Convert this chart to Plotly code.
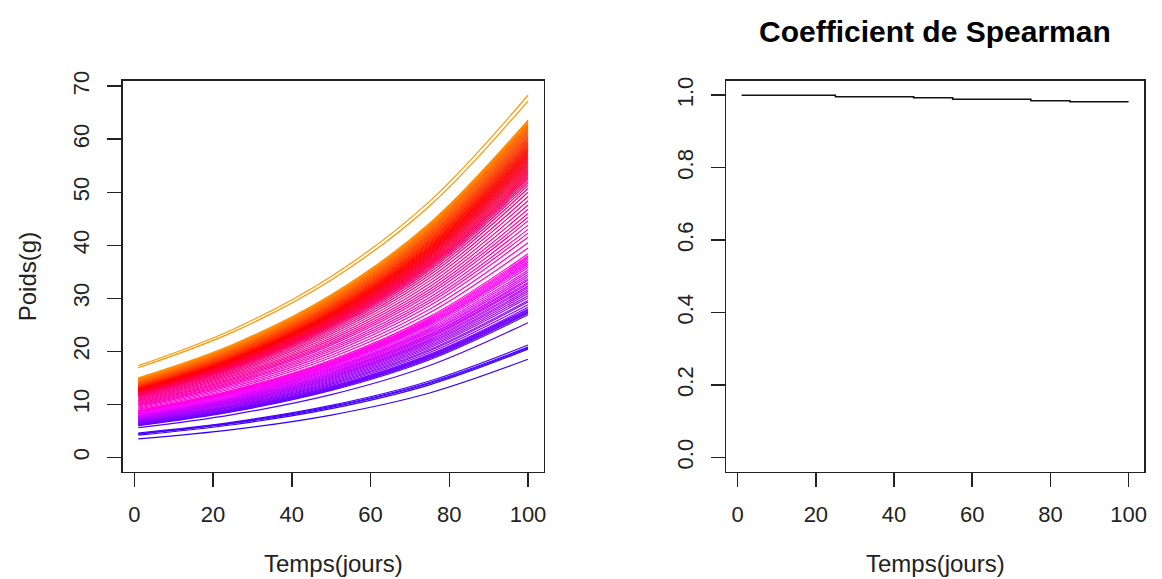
import colorsys
import plotly.graph_objects as go

# ---------------- data ----------------
jours = [1, 25, 50, 75, 100]

poids_j1 = [3.5, 4.2, 4.4, 4.5, 4.6, 5.6, 6.0, 6.1, 6.15, 6.2,
            6.3, 6.35, 6.4, 6.5, 6.6, 6.7, 6.8, 6.9, 7.0, 7.1,
            7.2, 7.3, 7.4, 7.5, 7.6, 7.7, 7.75, 7.85, 7.95, 8.05,
            8.15, 8.25, 8.35, 8.45, 8.5, 8.6, 8.65, 8.75, 8.8, 8.9,
            9.1, 9.3, 9.5, 9.7, 9.85, 10.0, 10.2, 10.35, 10.5, 10.65,
            10.8, 11.0, 11.15, 11.3, 11.45, 11.6, 11.7, 11.8, 11.9, 11.95,
            12.0, 12.1, 12.15, 12.2, 12.3, 12.35, 12.4, 12.5, 12.55, 12.6,
            12.7, 12.75, 12.8, 12.9, 12.95, 13.0, 13.1, 13.15, 13.2, 13.3,
            13.4, 13.45, 13.5, 13.6, 13.7, 13.8, 13.85, 13.95, 14.05, 14.15,
            14.25, 14.35, 14.45, 14.55, 14.65, 14.75, 14.85, 15.0, 16.9, 17.3]

poids_j25 = [5.24, 6.16, 6.40, 6.52, 6.66, 8.08, 8.63, 8.76, 8.83, 8.91,
             9.03, 9.10, 9.18, 9.32, 9.47, 9.60, 9.75, 9.89, 10.03, 10.17,
             10.30, 10.44, 10.58, 10.72, 10.85, 10.99, 11.07, 11.21, 11.35, 11.49,
             11.63, 11.77, 11.91, 12.05, 12.12, 12.26, 12.33, 12.47, 12.55, 12.69,
             12.99, 13.28, 13.58, 13.86, 14.08, 14.30, 14.58, 14.80, 15.02, 15.25,
             15.47, 15.75, 15.98, 16.20, 16.42, 16.63, 16.78, 16.92, 17.06, 17.14,
             17.22, 17.35, 17.43, 17.50, 17.64, 17.71, 17.79, 17.92, 18.00, 18.08,
             18.21, 18.29, 18.37, 18.50, 18.58, 18.66, 18.79, 18.87, 18.94, 19.08,
             19.21, 19.29, 19.36, 19.50, 19.63, 19.76, 19.84, 19.97, 20.10, 20.23,
             20.37, 20.49, 20.61, 20.74, 20.86, 20.99, 21.11, 21.29, 23.62, 24.13]

poids_j50 = [7.99, 9.19, 9.45, 9.61, 9.81, 11.84, 12.62, 12.79, 12.89, 12.99,
             13.14, 13.24, 13.36, 13.59, 13.81, 13.98, 14.21, 14.41, 14.60, 14.80,
             14.98, 15.18, 15.35, 15.55, 15.73, 15.92, 16.05, 16.25, 16.45, 16.64,
             16.84, 17.07, 17.26, 17.44, 17.56, 17.74, 17.86, 18.04, 18.16, 18.36,
             18.83, 19.27, 19.72, 20.11, 20.44, 20.78, 21.18, 21.50, 21.82, 22.17,
             22.51, 22.91, 23.26, 23.60, 23.93, 24.22, 24.45, 24.64, 24.84, 24.97,
             25.09, 25.27, 25.39, 25.51, 25.69, 25.81, 25.93, 26.11, 26.23, 26.35,
             26.53, 26.65, 26.78, 26.95, 27.07, 27.20, 27.37, 27.49, 27.62, 27.79,
             27.97, 28.09, 28.21, 28.39, 28.56, 28.74, 28.86, 29.04, 29.21, 29.39,
             29.56, 29.71, 29.87, 30.02, 30.17, 30.32, 30.47, 30.67, 33.46, 34.13]

poids_j75 = [12.15, 13.69, 13.95, 14.13, 14.41, 17.34, 18.42, 18.65, 18.79, 18.93,
             19.11, 19.25, 19.44, 19.78, 20.11, 20.34, 20.68, 20.96, 21.24, 21.52,
             21.75, 22.03, 22.26, 22.55, 22.78, 23.06, 23.25, 23.54, 23.82, 24.10,
             24.38, 24.72, 25.00, 25.23, 25.42, 25.65, 25.84, 26.07, 26.26, 26.55,
             27.27, 27.93, 28.60, 29.17, 29.64, 30.17, 30.73, 31.20, 31.68, 32.20,
             32.73, 33.29, 33.82, 34.35, 34.82, 35.25, 35.58, 35.86, 36.14, 36.33,
             36.53, 36.75, 36.95, 37.14, 37.37, 37.56, 37.76, 37.99, 38.18, 38.37,
             38.60, 38.79, 38.99, 39.22, 39.41, 39.61, 39.83, 40.03, 40.22, 40.45,
             40.68, 40.87, 41.06, 41.30, 41.53, 41.76, 41.95, 42.18, 42.41, 42.64,
             42.87, 43.05, 43.23, 43.41, 43.59, 43.77, 43.95, 44.16, 47.42, 48.29]

poids_j100 = [18.5, 20.4, 20.6, 20.8, 21.2, 25.4, 26.9, 27.2, 27.4, 27.6,
              27.8, 28.0, 28.3, 28.8, 29.3, 29.6, 30.1, 30.5, 30.9, 31.3,
              31.6, 32.0, 32.3, 32.7, 33.0, 33.4, 33.7, 34.1, 34.5, 34.9,
              35.3, 35.8, 36.2, 36.5, 36.8, 37.1, 37.4, 37.7, 38.0, 38.4,
              39.5, 40.5, 41.5, 42.3, 43.0, 43.8, 44.6, 45.3, 46.0, 46.8,
              47.6, 48.4, 49.2, 50.0, 50.7, 51.3, 51.8, 52.2, 52.6, 52.9,
              53.2, 53.5, 53.8, 54.1, 54.4, 54.7, 55.0, 55.3, 55.6, 55.9,
              56.2, 56.5, 56.8, 57.1, 57.4, 57.7, 58.0, 58.3, 58.6, 58.9,
              59.2, 59.5, 59.8, 60.1, 60.4, 60.7, 61.0, 61.3, 61.6, 61.9,
              62.2, 62.4, 62.6, 62.8, 63.0, 63.2, 63.4, 63.6, 67.2, 68.3]

spearman_jours = [1, 25, 45, 55, 75, 85, 100]
spearman_rho = [1.000, 0.996, 0.993, 0.989, 0.985, 0.982, 0.982]

x_ticks = [0, 20, 40, 60, 80, 100]
y_ticks_poids = [0, 10, 20, 30, 40, 50, 60, 70]
y_ticks_rho = [0.0, 0.2, 0.4, 0.6, 0.8, 1.0]
y_ticktext_rho = ["0.0", "0.2", "0.4", "0.6", "0.8", "1.0"]

# ---------------- figure ----------------
W, H = 1162, 579
FONT = "Liberation Sans, Arial, Helvetica, sans-serif"
INK = "#222222"

n = len(poids_j1)


def couleur(i):
    h = (0.7 + 0.4 * i / (n - 1)) % 1.0
    r, g, b = colorsys.hsv_to_rgb(h, 1.0, 1.0)
    return "rgb(%d,%d,%d)" % (round(r * 255), round(g * 255), round(b * 255))


fig = go.Figure()
for i in range(n):
    fig.add_trace(go.Scatter(
        x=jours,
        y=[poids_j1[i], poids_j25[i], poids_j50[i], poids_j75[i], poids_j100[i]],
        mode="lines", line=dict(color=couleur(i), width=1.2, shape="spline"),
        xaxis="x", yaxis="y", showlegend=False, hoverinfo="skip"))

fig.add_trace(go.Scatter(
    x=spearman_jours, y=spearman_rho, mode="lines",
    line=dict(color="#111111", width=1.6, shape="hv"),
    xaxis="x2", yaxis="y2", showlegend=False, hoverinfo="skip"))

ydom = [(H - 470) / H, (H - 72) / H]
axis_common = dict(showgrid=False, zeroline=False, showline=True, mirror=True,
                   linecolor=INK, linewidth=1.5, ticks="outside", ticklen=14,
                   tickwidth=1.5, tickcolor=INK,
                   tickfont=dict(family=FONT, size=22, color=INK))

fig.update_layout(
    width=W, height=H, autosize=False,
    margin=dict(l=0, r=0, t=0, b=0),
    paper_bgcolor="white", plot_bgcolor="white",
    showlegend=False, hovermode=False,
    xaxis=dict(domain=[123 / W, 545 / W], range=[-2.96, 103.96],
               tickvals=x_ticks, ticklabelstandoff=8, anchor="y", **axis_common),
    yaxis=dict(domain=ydom, range=[-2.73, 71.03], tickvals=y_ticks_poids,
               tickangle=-90, ticklabelstandoff=9, anchor="x", **axis_common),
    xaxis2=dict(domain=[728 / W, 1147 / W], range=[-2.96, 103.96],
                tickvals=x_ticks, ticklabelstandoff=8, anchor="y2", **axis_common),
    yaxis2=dict(domain=ydom, range=[-0.04, 1.04], tickvals=y_ticks_rho,
                ticktext=y_ticktext_rho, tickangle=-90, ticklabelstandoff=9,
                anchor="x2", **axis_common),
)

ann_font = dict(family=FONT, size=24, color=INK)
fig.add_annotation(text="Temps(jours)", x=334 / W, y=1 - 563 / H, xref="paper", yref="paper",
                   showarrow=False, xanchor="center", yanchor="middle", font=ann_font)
fig.add_annotation(text="Temps(jours)", x=937.5 / W, y=1 - 563 / H, xref="paper", yref="paper",
                   showarrow=False, xanchor="center", yanchor="middle", font=ann_font)
fig.add_annotation(text="Poids(g)", x=27 / W, y=1 - 271 / H, xref="paper", yref="paper",
                   showarrow=False, xanchor="center", yanchor="middle", textangle=-90,
                   font=ann_font)
fig.add_annotation(text="<b>Coefficient de Spearman</b>", x=937.5 / W, y=1 - 22 / H,
                   xref="paper", yref="paper", showarrow=False, xanchor="center",
                   yanchor="middle", font=dict(family=FONT, size=30, color="#000000"))

fig.write_html("out.html",
               config={"displayModeBar": False, "staticPlot": True},
               post_script="document.body.style.margin='0';document.body.style.overflow='hidden';")
